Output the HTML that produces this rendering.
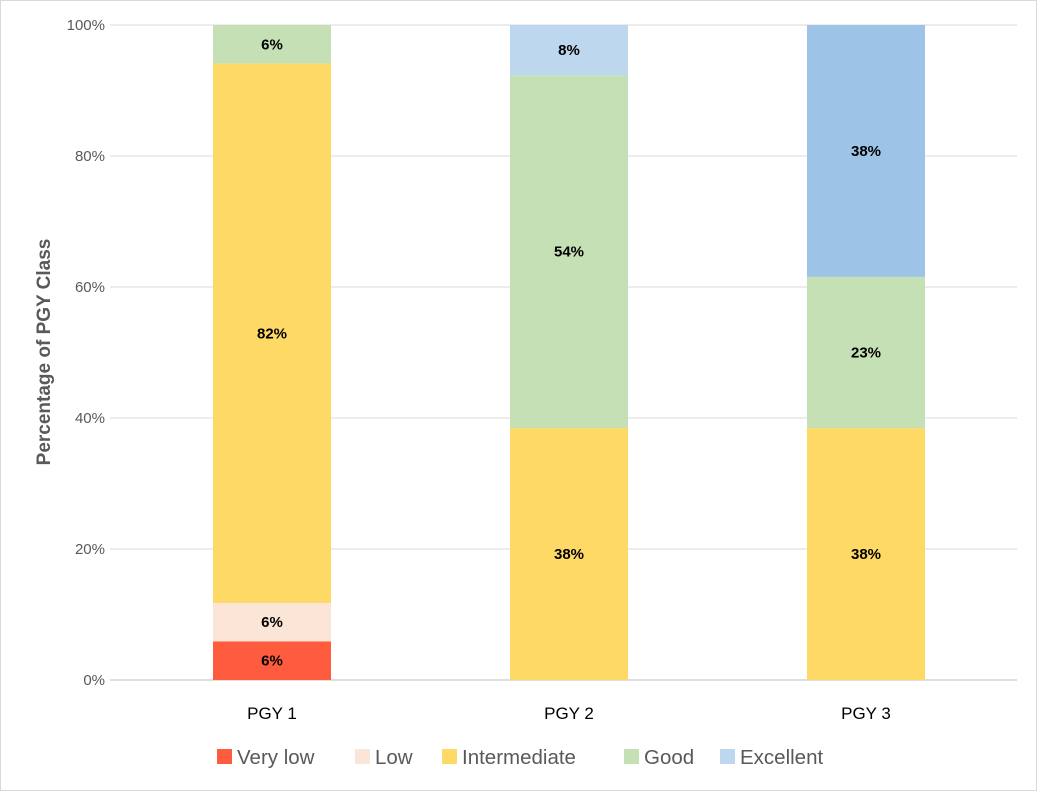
<!DOCTYPE html>
<html><head><meta charset="utf-8"><style>
html,body{margin:0;padding:0;background:#fff;}
svg{display:block;font-family:"Liberation Sans",sans-serif;}
</style></head><body>
<svg id="chart" width="1037" height="791">
<rect x="0.5" y="0.5" width="1036" height="790" fill="#fff" stroke="#d9d9d9"/>
<g id="grid"></g><g id="bars"></g><g id="labels"></g>
<text transform="translate(50,352) rotate(-90)" text-anchor="middle" font-size="19" font-weight="bold" fill="#595959">Percentage of PGY Class</text>
<g id="legend"></g>
</svg>
<script>
const categories=["PGY 1","PGY 2","PGY 3"];
const seriesNames=["Very low","Low","Intermediate","Good","Excellent"];
const veryLow=[5.88,0,0];
const low=[5.88,0,0];
const intermediate=[82.35,38.46,38.46];
const good=[5.88,53.85,23.08];
const excellent=[0,7.69,38.46];
const valueLabels=[["6%","6%","82%","6%",""],["","","38%","54%","8%"],["","","38%","23%","38%"]];
const yTicks=[0,20,40,60,80,100];
const yTickLabels=["0%","20%","40%","60%","80%","100%"];
const colors=["#ff5b3f","#fbe5d6","#ffd966","#c5e0b4","#bdd7ee"];
const series=[veryLow,low,intermediate,good,excellent];
const NS="http://www.w3.org/2000/svg";
const gx0=110,gx1=1017,bx0=123.5,bx1=1014.5,y0=680,y1=25,bw=118;
const y=v=>y0-(v/100)*(y0-y1);
const xc=i=>bx0+(i+0.5)*(bx1-bx0)/categories.length;
function mk(t,a,p){const e=document.createElementNS(NS,t);for(const k in a)e.setAttribute(k,a[k]);p.appendChild(e);return e;}
const grid=document.getElementById('grid');
yTicks.forEach((t,i)=>{
 const l=mk('line',{x1:gx0,x2:gx1,y1:y(t),y2:y(t),stroke:i==0?'#bfbfbf':'#d9d9d9','stroke-width':1},grid);
 
 
 const tx=mk('text',{x:105,y:y(t)+5,'text-anchor':'end','font-size':15,fill:'#595959'},grid);
 tx.textContent=yTickLabels[i];
 
 
});
const bars=document.getElementById('bars'),labels=document.getElementById('labels');
categories.forEach((c,i)=>{
 let cum=0;
 series.forEach((s,j)=>{
  const v=s[i];if(v<=0)return;
  let col=colors[j];if(j==4&&i==2)col="#9dc3e6";
  const r=mk('rect',{x:xc(i)-bw/2,y:y(cum+v),width:bw,height:y(cum)-y(cum+v),fill:col},bars);
  
  
  if(valueLabels[i][j]){
   const t=mk('text',{x:xc(i),y:(y(cum)+y(cum+v))/2+5,'text-anchor':'middle','font-size':15,'font-weight':'bold',fill:'#000'},labels);
   t.textContent=valueLabels[i][j];
   
   
  }
  cum+=v;
 });
 const t=mk('text',{x:xc(i),y:719,'text-anchor':'middle','font-size':17,fill:'#000'},labels);
 t.textContent=c;
 
 
});
const lg=document.getElementById('legend');
const lx=[217,355,442,624,720];
seriesNames.forEach((n,j)=>{
 const r=mk('rect',{x:lx[j],y:749,width:15,height:15,fill:colors[j]},lg);
 
 
 const t=mk('text',{x:lx[j]+20,y:764,'font-size':20.5,fill:'#595959'},lg);
 t.textContent=n;
 
 
});
</script>
</body></html>
